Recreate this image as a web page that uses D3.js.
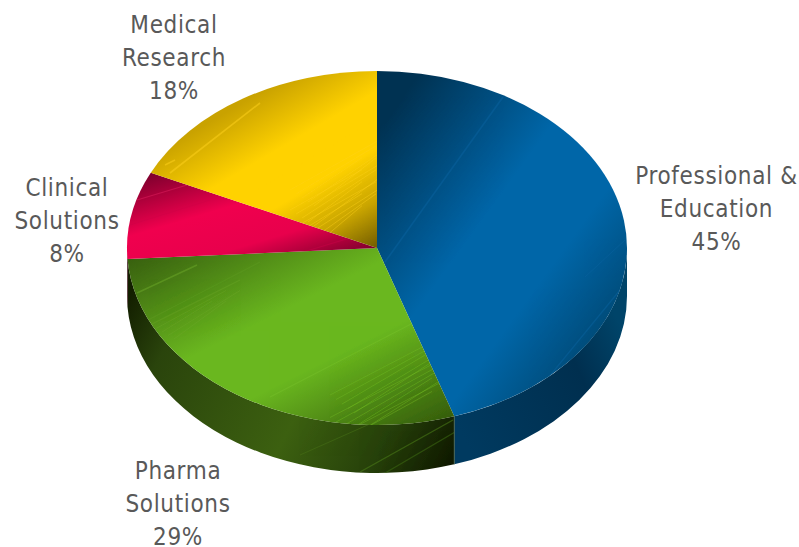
<!DOCTYPE html>
<meta charset="utf-8">
<script src="https://d3js.org/d3.v7.min.js"></script>
<style>
html, body { margin: 0; background: #fff; }
svg { display: block; }
.rotulo { font-family: "DejaVu Sans", sans-serif; font-stretch: condensed; font-size: 24px; letter-spacing: 0.65px; fill: #595959; text-anchor: middle; }
</style>
<body>
<div id="canvas"></div>
<script>
// dados da pizza, a partir do topo em sentido horario
var categorias = [["Professional &", "Education"], ["Pharma", "Solutions"], ["Clinical", "Solutions"], ["Medical", "Research"]];
var valores = [45, 29, 8, 18];
var rotulosPct = ["45%", "29%", "8%", "18%"];

var width = 799, height = 547;
var cx = 377, cy = 248, rx = 250, ry = 177, profundidade = 48;
var k = ry / rx;

// centro de cada rotulo (primeira linha)
var posRotulos = [[716.5, 184], [178, 479], [67, 196], [174, 33]];

// cores: gradiente diagonal de cada fatia [x1,y1,x2,y2, stops]
var gradTopo = [
	[400, 100, 647, 280, [[0, "#003252"], [0.45, "#0066a8"], [0.72, "#0066a8"], [1, "#004a76"]]],
	[130, 258, 260, 517, [[0, "#38600f"], [0.4, "#6ab71f"], [0.62, "#6ab71f"], [1, "#365c0c"]]],
	[150, 172, 190, 306, [[0, "#7a002c"], [0.4, "#f0004e"], [0.7, "#e8004c"], [1, "#7a002c"]]],
	[145, 160, 244, 328, [[0, "#c9a200"], [0.3, "#ffd200"], [0.55, "#ffd200"], [0.78, "#c9a500"], [1, "#6f5a00"]]]
];
var gradLado = [
	[455, 420, 627, 340, [[0, "#003a60"], [0.7, "#002f4f"], [1, "#004469"]]],
	[127, 300, 455, 470, [[0, "#131f00"], [0.15, "#2a440c"], [0.55, "#3c6010"], [0.8, "#26400a"], [1, "#0e1600"]]],
	[127, 250, 130, 300, [[0, "#400018"], [1, "#400018"]]],
	[0, 0, 1, 1, [[0, "#000"], [1, "#000"]]]
];

// riscos de brilho: fatia, x1, y1, x2, y2, cor, largura
var riscos = [
	[0, 385, 262, 503, 97, "#0a639f", 1.6], [0, 585, 277, 625, 240, "#0a639f", 1], [0, 530, 400, 620, 290, "#0a639f", 1.2],
	[3, 170, 173, 260, 103, "#ffd21e", 1.6], [3, 165, 165, 175, 160, "#ffd21e", 1.5], [3, 240, 200, 375, 120, "#ffd200", 1],
	[2, 137, 200, 187, 185, "#e0205f", 1.2], [2, 130, 225, 210, 200, "#d00048", 1], [2, 300, 253, 353, 237, "#c90048", 1.3],
	[1, 137, 293, 197, 265, "#6ea82a", 1.5], [1, 148, 320, 260, 262, "#5e9a20", 1.2], [1, 170, 330, 280, 277, "#5f9c20", 1], [1, 270, 397, 413, 323, "#77c02a", 1.2]
];
var riscosLado = [
	[360, 472, 453, 420, "#4a7a18", 1.4], [380, 476, 455, 432, "#3c6812", 1.2], [300, 455, 390, 415, "#466f16", 1]
];

var x = d3.scaleLinear().domain([-1, 1]).range([-rx, rx]);

var svg = d3.select("#canvas").append("svg").attr("width", width).attr("height", height);
var defs = svg.append("defs");
var inverso = "scale(1," + (1 / k) + ") translate(" + (-cx) + "," + (-cy) + ")";

function criaGrad(id, g) {
	var lg = defs.append("linearGradient").attr("id", id)
		.attr("gradientUnits", "userSpaceOnUse").attr("gradientTransform", inverso)
		.attr("x1", g[0]).attr("y1", g[1]).attr("x2", g[2]).attr("y2", g[3]);
	g[4].forEach(function(s) {
		lg.append("stop").attr("offset", s[0]).attr("stop-color", s[1]);
	});
}
gradTopo.forEach(function(g, i) { criaGrad("topo" + i, g); });
gradLado.forEach(function(g, i) { criaGrad("lado" + i, g); });

var fatias = d3.pie().sort(null)(valores);
var arco = d3.arc().innerRadius(0).outerRadius(x(1));

var pizza = svg.append("g").attr("transform", "translate(" + cx + "," + cy + ") scale(1," + k + ")");

// lateral: so a parte da frente (90 a 270 graus)
var prof = profundidade / k;
var lados = fatias.map(function(d) {
	var a0 = Math.max(d.startAngle, Math.PI / 2) - Math.PI / 2;
	var a1 = Math.min(d.endAngle, 3 * Math.PI / 2) - Math.PI / 2;
	if (a1 <= a0) return null;
	var p = d3.path();
	p.arc(0, 0, x(1), a0, a1);
	p.arc(0, prof, x(1), a1, a0, true);
	p.closePath();
	return p.toString();
});

pizza.selectAll(".lado").data(lados).enter().filter(function(d) { return d; })
	.append("path").attr("class", "lado")
	.attr("d", function(d) { return d; })
	.attr("fill", function(d) { return "url(#lado" + lados.indexOf(d) + ")"; });

// recorte das laterais e do topo para os riscos
lados.forEach(function(d, i) {
	if (d) defs.append("clipPath").attr("id", "clipLado" + i).append("path")
		.attr("transform", "translate(" + cx + "," + cy + ") scale(1," + k + ")").attr("d", d);
});
fatias.forEach(function(d, i) {
	defs.append("clipPath").attr("id", "clipTopo" + i).append("path")
		.attr("transform", "translate(" + cx + "," + cy + ") scale(1," + k + ")").attr("d", arco(d));
});

svg.append("g").attr("clip-path", "url(#clipLado1)").selectAll("line").data(riscosLado).enter().append("line")
	.attr("x1", function(d) { return d[0]; }).attr("y1", function(d) { return d[1]; })
	.attr("x2", function(d) { return d[2]; }).attr("y2", function(d) { return d[3]; })
	.attr("stroke", function(d) { return d[4]; }).attr("stroke-width", function(d) { return d[5]; })
	.attr("opacity", 0.6);

pizza.selectAll(".fatia").data(fatias).enter().append("path")
	.attr("class", "fatia")
	.attr("d", arco)
	.attr("fill", function(d, i) { return "url(#topo" + i + ")"; });

// riscos avulsos
riscos.forEach(function(r) {
	svg.append("line").attr("clip-path", "url(#clipTopo" + r[0] + ")")
		.attr("x1", r[1]).attr("y1", r[2]).attr("x2", r[3]).attr("y2", r[4])
		.attr("stroke", r[5]).attr("stroke-width", r[6]).attr("opacity", 0.5);
});

// hachura perto do centro (amarelo e verde)
function hachura(fatia, x0, y0, comp, incl, passo, n, cor, larg) {
	var g = svg.append("g").attr("clip-path", "url(#clipTopo" + fatia + ")");
	d3.range(n).forEach(function(i) {
		var dy = i * passo;
		g.append("line")
			.attr("x1", x0 + (i % 5) * 6).attr("y1", y0 + dy)
			.attr("x2", x0 + comp - (i % 3) * 14).attr("y2", y0 + dy + incl * (comp - (i % 3) * 14))
			.attr("stroke", cor).attr("stroke-width", larg).attr("opacity", 0.4);
	});
}
hachura(3, 290, 190, 100, -0.56, 4, 15, "#ffd21e", 1);
hachura(1, 330, 395, 130, -0.52, 4.5, 12, "#76bf28", 1);
hachura(1, 150, 325, 90, -0.5, 3.5, 5, "#6ea82a", 1);

// divisoria na frente entre verde e azul
var a = fatias[0].endAngle;
svg.append("line")
	.attr("x1", cx + x(Math.sin(a))).attr("y1", cy - ry * Math.cos(a))
	.attr("x2", cx + x(Math.sin(a))).attr("y2", cy - ry * Math.cos(a) + profundidade)
	.attr("stroke", "#4d6a55").attr("stroke-width", 0.8);

// rotulos
categorias.forEach(function(linhas, i) {
	var t = svg.append("text").attr("class", "rotulo");
	linhas.concat([rotulosPct[i]]).forEach(function(s, j) {
		t.append("tspan").attr("x", posRotulos[i][0]).attr("y", posRotulos[i][1] + j * 33).text(s);
	});
});
</script>
</body>
